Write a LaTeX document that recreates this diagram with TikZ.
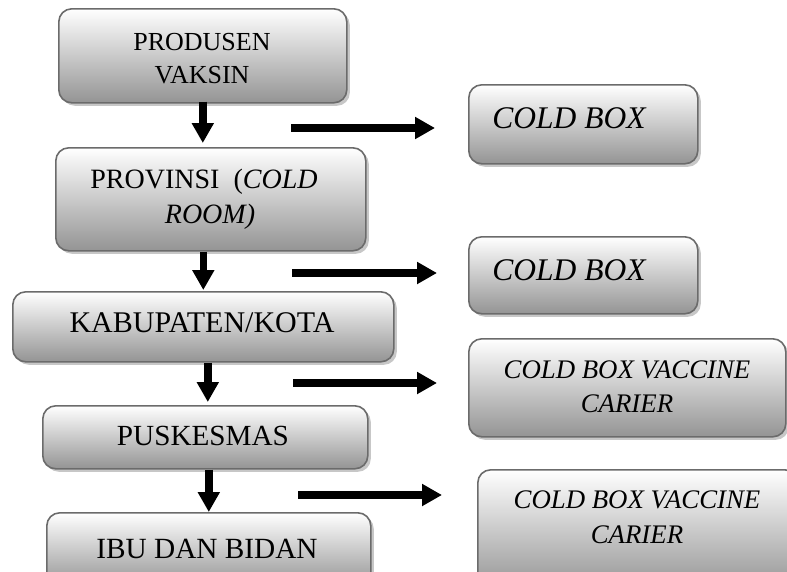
\documentclass[tikz,border=0pt]{standalone}
\usepackage{fontspec}
\setmainfont{Liberation Serif}
\usetikzlibrary{arrows.meta,shadows}
\begin{document}
\begin{tikzpicture}[x=1pt,y=-1pt,
  box/.style={draw=black!58, line width=1.6pt, rounded corners=13pt,
    top color=white, bottom color=black!42, inner sep=0pt,
    drop shadow={shadow xshift=3pt, shadow yshift=-3pt, fill=black!22, opacity=1}},
  arr/.style={line width=7.5pt, -{Triangle[width=21pt,length=20pt]}},
  lbl/.style={inner sep=0pt, anchor=base, align=center},
]
\useasboundingbox (0,0) rectangle (787,571);
\clip (0,0) rectangle (787,571);

% left column boxes
\node[box, minimum width=288pt, minimum height=94pt, anchor=north west] (b1) at (58,8) {};
\node[box, minimum width=310pt, minimum height=103pt, anchor=north west] (b2) at (55,147) {};
\node[box, minimum width=381pt, minimum height=70pt, anchor=north west] (b3) at (12,291) {};
\node[box, minimum width=325pt, minimum height=63pt, anchor=north west] (b4) at (42,405) {};
\node[box, minimum width=324pt, minimum height=74pt, anchor=north west] (b5) at (46,512) {};

% right column boxes
\node[box, minimum width=229pt, minimum height=79pt, anchor=north west] (r1) at (468,84) {};
\node[box, minimum width=229pt, minimum height=77pt, anchor=north west] (r2) at (468,236) {};
\node[box, minimum width=317pt, minimum height=98pt, anchor=north west] (r3) at (468,338) {};
\node[box, minimum width=320pt, minimum height=121pt, anchor=north west] (r4) at (477,469) {};

% texts (base anchor = baseline of the last line)
\node[lbl, font=\fontsize{26}{33}\selectfont] (t1) at (202,83) {PRODUSEN\\VAKSIN};
\node[lbl, font=\fontsize{28}{35}\selectfont] (t2) at (210,223) {PROVINSI~~(\textit{COLD}\kern12pt\\\textit{ROOM)}};
\node[lbl, font=\fontsize{30}{34}\selectfont] (t3) at (202,332) {KABUPATEN/KOTA};
\node[lbl, font=\fontsize{29.2}{34}\selectfont] (t4) at (203,445) {PUSKESMAS};
\node[lbl, font=\fontsize{29.3}{34}\selectfont] (t5) at (207,558) {IBU DAN BIDAN};
\node[lbl, font=\fontsize{31.5}{34}\selectfont\itshape] (t6) at (569,128) {COLD BOX};
\node[lbl, font=\fontsize{31.5}{34}\selectfont\itshape] (t7) at (569,280) {COLD BOX};
\node[lbl, font=\fontsize{26.8}{34}\selectfont\itshape] (t8) at (627,412) {COLD BOX VACCINE\\CARIER};
\node[lbl, font=\fontsize{26.8}{35}\selectfont\itshape] (t9) at (637,543) {COLD BOX VACCINE\\CARIER};

% vertical arrows
\draw[arr, shorten <=-2pt, shorten >=4pt] (b1.south) -- (b1.south |- b2.north);
\draw[arr, shorten >=1pt] (b3.north |- b2.south) -- (b3.north);
\draw[arr, shorten >=3pt] ([xshift=2.5pt]b4.north |- b3.south) -- ([xshift=2.5pt]b4.north);
\draw[arr] (b5.north |- b4.south) -- (b5.north);

% horizontal arrows
\coordinate (h1) at (291,128);
\coordinate (h2) at (292,273);
\coordinate (h3) at (293,383);
\coordinate (h4) at (298,495);
\draw[arr, shorten >=33pt] (h1) -- (h1 -| r1.west);
\draw[arr, shorten >=31pt] (h2) -- (h2 -| r2.west);
\draw[arr, shorten >=31pt] (h3) -- (h3 -| r3.west);
\draw[arr, shorten >=35pt] (h4) -- (h4 -| r4.west);
\end{tikzpicture}
\end{document}
